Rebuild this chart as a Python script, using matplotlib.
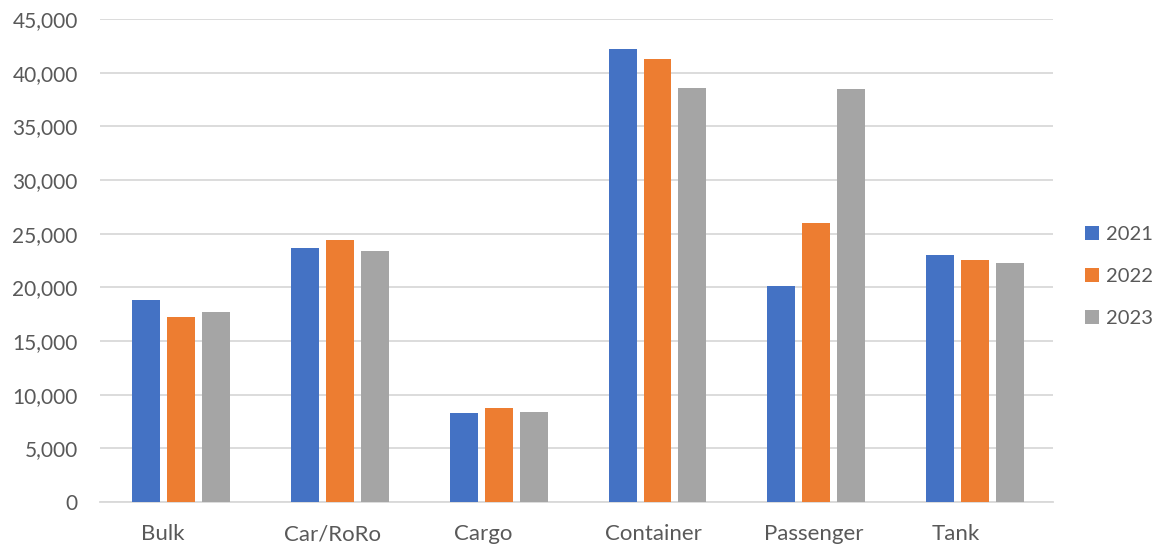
import matplotlib
matplotlib.use("Agg")
import matplotlib.pyplot as plt
from matplotlib.patches import Patch
from matplotlib.ticker import FuncFormatter, MultipleLocator
import matplotlib.transforms as mtransforms
import numpy as np

categories = ["Bulk", "Car/RoRo", "Cargo", "Container", "Passenger", "Tank"]
years = ["2021", "2022", "2023"]
values_2021 = [18790, 23660, 8290, 42230, 20120, 23040]
values_2022 = [17260, 24450, 8730, 41240, 25960, 22520]
values_2023 = [17670, 23350, 8360, 38570, 38450, 22240]
series = [values_2021, values_2022, values_2023]
colors = ["#4472C4", "#ED7D31", "#A5A5A5"]

# horizontal nudges (in pixels) for the category labels
label_nudge_px = [-17, -6, -14, -2.5, -0.5, -17.5]

plt.rcParams["font.family"] = ["Lato", "DejaVu Sans"]
text_color = "#595959"
grid_color = "#D9D9D9"

fig = plt.figure(figsize=(11.65, 5.46), dpi=100)
ax = fig.add_axes([100 / 1165, 1 - 502 / 546, (1053 - 100) / 1165, (502 - 19) / 546])

x = np.arange(len(categories))
bar_w = 0.176
step = 0.22
for i, (vals, col) in enumerate(zip(series, colors)):
    ax.bar(x + 0.01 + (i - 1) * step, vals, width=bar_w, color=col, zorder=3)

ax.set_xlim(-0.5, len(categories) - 0.5)
ax.set_ylim(0, 45000)
ax.yaxis.set_major_locator(MultipleLocator(5000))
ax.yaxis.set_major_formatter(FuncFormatter(lambda v, p: f"{int(v):,}"))
ax.set_xticks(x)
ax.set_xticklabels(categories)

ax.grid(axis="y", color=grid_color, linewidth=1.3, zorder=0)
for s in ["top", "right", "left"]:
    ax.spines[s].set_visible(False)
ax.spines["bottom"].set_color(grid_color)
ax.spines["bottom"].set_linewidth(1.3)
ax.tick_params(axis="both", length=0, colors=text_color)
ax.tick_params(axis="y", pad=16, labelsize=15)
ax.tick_params(axis="x", pad=16, labelsize=16)

for lbl, dx in zip(ax.get_xticklabels(), label_nudge_px):
    lbl.set_transform(lbl.get_transform() + mtransforms.Affine2D().translate(dx, 0))

handles = [Patch(facecolor=c, edgecolor="none") for c in colors]
leg = fig.legend(handles, years, loc="center left", bbox_to_anchor=(1085 / 1165, 1 - 276.5 / 546),
                 frameon=False, fontsize=14.5, handlelength=0.69, handleheight=0.69,
                 handletextpad=0.35, labelspacing=1.22, borderpad=0, borderaxespad=0)
for t in leg.get_texts():
    t.set_color(text_color)

fig.savefig("out.png", dpi=100)
